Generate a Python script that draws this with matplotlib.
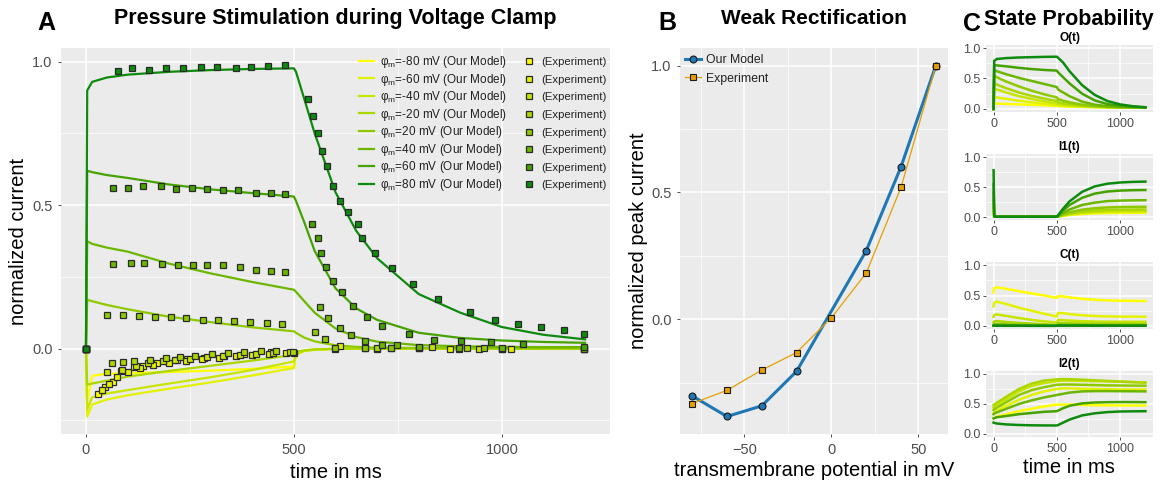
import matplotlib.pyplot as plt
from matplotlib.lines import Line2D
from matplotlib.ticker import FormatStrFormatter

plt.rcParams['font.family'] = ['Liberation Sans', 'DejaVu Sans']
plt.rcParams['mathtext.fontset'] = 'custom'
plt.rcParams['mathtext.rm'] = 'Liberation Sans'

# --- data -------------------------------------------------------------
VOLTS = [-80, -60, -40, -20, 20, 40, 60, 80]
COLORS = ['#FFFF00', '#E3F200', '#C7E500', '#ABD700',
          '#8EC900', '#6CB600', '#45A200', '#0E8A0E']

# panel A, model curves
T_MODEL = [0, 3, 15, 50, 100, 200, 300, 400, 500, 505, 525, 550, 600,
           650, 700, 800, 900, 1000, 1100, 1200]
model_m80 = [0, -0.185, -0.095, -0.088, -0.086, -0.082, -0.077, -0.071, -0.063,
             -0.018, -0.007, -0.003, -0.001, 0, 0, 0, 0, 0, 0, 0]
model_m60 = [0, -0.237, -0.195, -0.178, -0.163, -0.140, -0.118, -0.094, -0.068,
             -0.022, -0.009, -0.004, -0.001, 0, 0, 0, 0, 0, 0, 0]
model_m40 = [0, -0.212, -0.170, -0.157, -0.145, -0.122, -0.100, -0.075, -0.045,
             -0.020, -0.008, -0.004, -0.001, 0, 0, 0, 0, 0, 0, 0]
model_m20 = [0, -0.126, -0.122, -0.112, -0.098, -0.078, -0.060, -0.042, -0.022,
             -0.012, -0.006, -0.003, -0.001, 0, 0, 0, 0, 0, 0, 0]
model_20 = [0, 0.170, 0.165, 0.152, 0.137, 0.111, 0.092, 0.074, 0.060,
            0.055, 0.038, 0.025, 0.011, 0.006, 0.003, 0.002, 0.002, 0.001, 0.001, 0.001]
model_40 = [0, 0.374, 0.365, 0.352, 0.338, 0.296, 0.262, 0.232, 0.205,
            0.198, 0.165, 0.125, 0.070, 0.040, 0.024, 0.012, 0.008, 0.006, 0.005, 0.005]
model_60 = [0, 0.620, 0.615, 0.605, 0.595, 0.572, 0.555, 0.542, 0.530,
            0.515, 0.440, 0.340, 0.210, 0.140, 0.100, 0.055, 0.037, 0.028, 0.023, 0.020]
model_80 = [0, 0.900, 0.930, 0.945, 0.955, 0.965, 0.971, 0.975, 0.977,
            0.965, 0.870, 0.750, 0.545, 0.410, 0.315, 0.190, 0.125, 0.075, 0.048, 0.032]

# panel A, experiment points
exp_t_m80 = [0, 29, 45, 65, 85, 116, 136, 155, 171, 193, 219, 242, 283, 331, 380,
             444, 500, 599, 699, 800, 897, 1000, 1197]
exp_v_m80 = [0, -0.159, -0.135, -0.115, -0.080, -0.063, -0.060, -0.051, -0.049, -0.042,
             -0.039, -0.035, -0.032, -0.026, -0.019, -0.013, -0.016, 0.0, 0.0, 0.001,
             0.0, 0.0, 0.0]
exp_t_m60 = [0, 38, 55, 75, 100, 130, 160, 200, 240, 280, 320, 360, 400, 440, 480,
             612, 734, 876, 1022]
exp_v_m60 = [0, -0.145, -0.122, -0.100, -0.082, -0.068, -0.058, -0.050, -0.043, -0.038,
             -0.032, -0.027, -0.022, -0.018, -0.015, 0.008, 0.002, 0.0, 0.0]
exp_t_m40 = [0, 51, 87, 120, 150, 185, 215, 250, 290, 330, 370, 410, 450, 490, 672,
             831, 946]
exp_v_m40 = [0, -0.082, -0.074, -0.060, -0.052, -0.045, -0.040, -0.036, -0.031, -0.026,
             -0.022, -0.018, -0.014, -0.012, 0.003, 0.004, 0.0]
exp_t_m20 = [0, 63, 89, 115, 155, 193, 227, 263, 303, 342, 380, 422, 458, 498, 699,
             800, 917, 1000]
exp_v_m20 = [0, -0.051, -0.048, -0.042, -0.039, -0.034, -0.030, -0.026, -0.020, -0.016,
             -0.013, -0.008, -0.008, -0.013, 0.001, 0.002, 0.003, 0.0]
exp_t_20 = [0, 51, 88, 128, 166, 204, 241, 281, 317, 357, 394, 435, 471, 551, 575,
            599, 672, 734, 957, 1197]
exp_v_20 = [0, 0.118, 0.118, 0.115, 0.111, 0.110, 0.105, 0.101, 0.100, 0.096, 0.094,
            0.088, 0.087, 0.058, 0.035, 0.002, 0.003, 0.002, 0.003, 0.0]
exp_t_40 = [0, 66, 108, 140, 183, 222, 258, 292, 330, 370, 409, 444, 479, 563, 583,
            610, 637, 671, 713, 748, 800, 897, 1000, 1197]
exp_v_40 = [0, 0.295, 0.298, 0.298, 0.296, 0.292, 0.292, 0.291, 0.290, 0.286, 0.274,
            0.271, 0.266, 0.145, 0.107, 0.073, 0.046, 0.028, 0.014, 0.014, 0.004,
            0.002, 0.001, 0.0]
exp_t_60 = [0, 65, 100, 138, 180, 217, 255, 291, 329, 366, 408, 444, 479, 544, 559,
            565, 577, 594, 616, 643, 676, 713, 777, 837, 901, 973, 1051, 1197]
exp_v_60 = [0, 0.559, 0.561, 0.568, 0.567, 0.557, 0.559, 0.556, 0.552, 0.553, 0.544,
            0.544, 0.540, 0.436, 0.387, 0.333, 0.284, 0.237, 0.197, 0.150, 0.110,
            0.078, 0.049, 0.031, 0.026, 0.023, 0.017, 0.005]
exp_t_80 = [0, 76, 110, 152, 193, 234, 277, 314, 360, 398, 438, 479, 535, 546, 559,
            568, 579, 593, 610, 629, 653, 663, 695, 735, 787, 847, 923, 983, 1039,
            1094, 1149, 1197]
exp_v_80 = [0, 0.967, 0.977, 0.973, 0.979, 0.977, 0.982, 0.981, 0.980, 0.981, 0.985,
            0.987, 0.870, 0.812, 0.750, 0.690, 0.637, 0.567, 0.515, 0.476, 0.434,
            0.387, 0.333, 0.281, 0.225, 0.173, 0.126, 0.101, 0.086, 0.075, 0.063, 0.052]

# panel B
potential_model = [-80, -60, -40, -20, 20, 40, 60]
peak_model = [-0.302, -0.383, -0.341, -0.205, 0.270, 0.601, 1.0]
potential_exp = [-80, -60, -40, -20, 0, 20, 40, 60]
peak_exp = [-0.332, -0.280, -0.200, -0.131, 0.006, 0.182, 0.520, 1.0]

# panel C, state probabilities (rows: -80 ... 80 mV)
T_STATE = [0, 5, 25, 100, 200, 300, 400, 500, 510, 550, 600, 700, 800, 900, 1000,
           1100, 1200]
prob_O = [
    [0, 0.09, 0.088, 0.082, 0.075, 0.068, 0.061, 0.05, 0.047, 0.043, 0.04, 0.034, 0.03, 0.027, 0.025, 0.024, 0.024],
    [0, 0.20, 0.19, 0.165, 0.135, 0.11, 0.085, 0.065, 0.06, 0.052, 0.046, 0.037, 0.031, 0.028, 0.026, 0.025, 0.024],
    [0, 0.34, 0.32, 0.27, 0.21, 0.165, 0.125, 0.09, 0.08, 0.07, 0.06, 0.045, 0.035, 0.03, 0.026, 0.025, 0.024],
    [0, 0.43, 0.40, 0.34, 0.27, 0.215, 0.17, 0.13, 0.11, 0.095, 0.08, 0.055, 0.04, 0.032, 0.027, 0.025, 0.024],
    [0, 0.55, 0.52, 0.45, 0.37, 0.30, 0.24, 0.19, 0.16, 0.135, 0.11, 0.07, 0.046, 0.035, 0.029, 0.026, 0.024],
    [0, 0.64, 0.62, 0.57, 0.51, 0.46, 0.41, 0.36, 0.32, 0.27, 0.21, 0.12, 0.07, 0.045, 0.033, 0.028, 0.025],
    [0, 0.72, 0.715, 0.70, 0.675, 0.655, 0.64, 0.63, 0.60, 0.52, 0.42, 0.25, 0.14, 0.08, 0.05, 0.035, 0.027],
    [0, 0.79, 0.82, 0.835, 0.845, 0.85, 0.855, 0.858, 0.84, 0.76, 0.62, 0.39, 0.23, 0.13, 0.075, 0.045, 0.028],
]
prob_I1 = [
    [0.05, 0.006, 0.005, 0.005, 0.005, 0.005, 0.005, 0.005, 0.006, 0.02, 0.033, 0.05, 0.061, 0.066, 0.068, 0.069, 0.07],
    [0.10, 0.006, 0.005, 0.005, 0.005, 0.005, 0.005, 0.005, 0.006, 0.024, 0.04, 0.061, 0.074, 0.08, 0.083, 0.084, 0.085],
    [0.15, 0.007, 0.005, 0.005, 0.005, 0.005, 0.005, 0.005, 0.007, 0.028, 0.047, 0.072, 0.087, 0.094, 0.097, 0.099, 0.10],
    [0.20, 0.008, 0.005, 0.005, 0.005, 0.005, 0.005, 0.005, 0.008, 0.034, 0.058, 0.09, 0.108, 0.118, 0.122, 0.124, 0.125],
    [0.30, 0.008, 0.005, 0.005, 0.005, 0.005, 0.005, 0.005, 0.01, 0.045, 0.078, 0.122, 0.147, 0.16, 0.166, 0.169, 0.17],
    [0.40, 0.009, 0.005, 0.005, 0.005, 0.005, 0.005, 0.005, 0.015, 0.07, 0.125, 0.20, 0.24, 0.265, 0.273, 0.278, 0.28],
    [0.55, 0.01, 0.005, 0.005, 0.005, 0.005, 0.005, 0.005, 0.025, 0.11, 0.20, 0.32, 0.39, 0.425, 0.44, 0.447, 0.45],
    [0.78, 0.01, 0.005, 0.005, 0.005, 0.005, 0.005, 0.005, 0.03, 0.14, 0.26, 0.42, 0.51, 0.555, 0.575, 0.585, 0.59],
]
prob_C = [
    [0.55, 0.62, 0.635, 0.61, 0.57, 0.535, 0.50, 0.46, 0.49, 0.485, 0.47, 0.445, 0.43, 0.42, 0.415, 0.412, 0.41],
    [0.32, 0.38, 0.40, 0.36, 0.30, 0.25, 0.20, 0.155, 0.215, 0.21, 0.195, 0.175, 0.163, 0.157, 0.154, 0.153, 0.152],
    [0.15, 0.18, 0.19, 0.165, 0.13, 0.10, 0.075, 0.055, 0.10, 0.095, 0.088, 0.078, 0.073, 0.07, 0.069, 0.068, 0.068],
    [0.06, 0.075, 0.08, 0.065, 0.05, 0.038, 0.028, 0.02, 0.05, 0.048, 0.045, 0.04, 0.037, 0.036, 0.035, 0.035, 0.035],
    [0.02, 0.03, 0.032, 0.026, 0.02, 0.015, 0.011, 0.008, 0.025, 0.024, 0.022, 0.02, 0.019, 0.018, 0.018, 0.018, 0.018],
    [0.01, 0.015, 0.016, 0.013, 0.01, 0.008, 0.006, 0.005, 0.015, 0.014, 0.013, 0.012, 0.011, 0.011, 0.011, 0.011, 0.011],
    [0.005, 0.008, 0.009, 0.007, 0.005, 0.004, 0.003, 0.003, 0.01, 0.009, 0.008, 0.008, 0.007, 0.007, 0.007, 0.007, 0.007],
    [0.003, 0.004, 0.004, 0.003, 0.003, 0.002, 0.002, 0.002, 0.006, 0.005, 0.005, 0.005, 0.004, 0.004, 0.004, 0.004, 0.004],
]
prob_I2 = [
    [0.26, 0.27, 0.29, 0.33, 0.38, 0.42, 0.46, 0.49, 0.49, 0.49, 0.49, 0.485, 0.48, 0.478, 0.476, 0.475, 0.475],
    [0.35, 0.36, 0.39, 0.47, 0.57, 0.65, 0.71, 0.75, 0.755, 0.76, 0.76, 0.755, 0.75, 0.745, 0.742, 0.74, 0.74],
    [0.44, 0.45, 0.48, 0.58, 0.71, 0.80, 0.85, 0.88, 0.885, 0.89, 0.89, 0.885, 0.88, 0.875, 0.87, 0.865, 0.86],
    [0.48, 0.49, 0.52, 0.62, 0.75, 0.84, 0.89, 0.91, 0.912, 0.915, 0.913, 0.905, 0.895, 0.885, 0.875, 0.865, 0.855],
    [0.40, 0.41, 0.44, 0.53, 0.65, 0.73, 0.78, 0.82, 0.822, 0.825, 0.825, 0.82, 0.815, 0.81, 0.808, 0.806, 0.805],
    [0.33, 0.34, 0.36, 0.42, 0.50, 0.56, 0.61, 0.65, 0.655, 0.67, 0.69, 0.71, 0.715, 0.715, 0.713, 0.712, 0.71],
    [0.26, 0.265, 0.28, 0.30, 0.33, 0.35, 0.37, 0.38, 0.39, 0.43, 0.47, 0.51, 0.525, 0.53, 0.532, 0.532, 0.53],
    [0.19, 0.185, 0.175, 0.16, 0.15, 0.145, 0.143, 0.142, 0.15, 0.19, 0.24, 0.31, 0.345, 0.365, 0.375, 0.378, 0.38],
]

model_curves = [model_m80, model_m60, model_m40, model_m20,
                model_20, model_40, model_60, model_80]
exp_times = [exp_t_m80, exp_t_m60, exp_t_m40, exp_t_m20,
             exp_t_20, exp_t_40, exp_t_60, exp_t_80]
exp_values = [exp_v_m80, exp_v_m60, exp_v_m40, exp_v_m20,
              exp_v_20, exp_v_40, exp_v_60, exp_v_80]

# --- layout helpers ----------------------------------------------------
W, H = 1168, 486
BG = '#EBEBEB'
TICK_COL = '#4D4D4D'


def box(x0, y0, x1, y1):
    return [x0 / W, 1 - y1 / H, (x1 - x0) / W, (y1 - y0) / H]


def gg_style(ax, xmaj, xmin, ymaj, ymin, fs, ypad=3, xpad=3):
    ax.set_facecolor(BG)
    for s in ax.spines.values():
        s.set_visible(False)
    ax.set_xticks(xmaj)
    ax.set_xticks(xmin, minor=True)
    ax.set_yticks(ymaj)
    ax.set_yticks(ymin, minor=True)
    ax.grid(which='major', color='white', lw=1.1)
    ax.grid(which='minor', color='white', lw=0.5)
    ax.set_axisbelow(True)
    ax.tick_params(which='major', length=2.5, width=0.6, color='#333333',
                   labelcolor=TICK_COL, labelsize=fs)
    ax.tick_params(axis='y', pad=ypad)
    ax.tick_params(axis='x', pad=xpad)
    ax.tick_params(which='minor', length=0)
    ax.yaxis.set_major_formatter(FormatStrFormatter('%.1f'))


fig = plt.figure(figsize=(W / 100, H / 100), dpi=100)

# --- A ----------------------------------------------------------------
ax_a = fig.add_axes(box(61, 48, 610, 434))
gg_style(ax_a, [0, 500, 1000], [250, 750], [0, 0.5, 1.0], [-0.25, 0.25, 0.75], 10.5,
         ypad=3.5, xpad=4)
for curve, col in zip(model_curves, COLORS):
    ax_a.plot(T_MODEL, curve, color=col, lw=1.6, zorder=2)
for tt, vv, col in zip(exp_times, exp_values, COLORS):
    ax_a.plot(tt, vv, ls='none', marker='s', ms=4.8, mfc=col, mec='#2A2A2A',
              mew=0.9, zorder=3)
ax_a.set_xlim(-60, 1260)
ax_a.set_ylim(-0.298, 1.048)

# legend: two columns drawn as two legends so the rows line up
line_handles = [Line2D([], [], color=c, lw=1.6) for c in COLORS]
pt_handles = [Line2D([], [], ls='none', marker='s', ms=4.8, mfc=c, mec='#2A2A2A', mew=0.9)
              for c in COLORS]
line_labels = [r'φ$_\mathrm{m}$=%d mV (Our Model)' % v for v in VOLTS]
pt_labels = ['(Experiment)'] * len(VOLTS)
leg1 = ax_a.legend(line_handles, line_labels, loc='upper left',
                   bbox_to_anchor=(359 / W, 1 - 54 / H), bbox_transform=fig.transFigure,
                   frameon=False, fontsize=8.5, handlelength=1.3, handletextpad=0.5,
                   labelspacing=0.13, borderpad=0, borderaxespad=0, labelcolor='#222222')
ax_a.add_artist(leg1)
ax_a.legend(pt_handles, pt_labels, loc='upper left',
            bbox_to_anchor=(522 / W, 1 - 57 / H), bbox_transform=fig.transFigure,
            frameon=False, fontsize=8.2, handlelength=1.3, handletextpad=0.35,
            labelspacing=0.67, borderpad=0, borderaxespad=0, labelcolor='#222222')

# --- B ----------------------------------------------------------------
ax_b = fig.add_axes(box(680, 48, 948, 434))
gg_style(ax_b, [-50, 0, 50], [-75, -25, 25], [0, 0.5, 1.0], [-0.25, 0.25, 0.75], 10.5,
         ypad=3.5, xpad=4)
ax_b.xaxis.set_major_formatter(plt.FuncFormatter(lambda v, p: '%d' % v if v >= 0 else '\u2212%d' % -v))
ax_b.plot(potential_model, peak_model, color='#1F77B4', lw=2.2, marker='o', ms=5,
          mfc='#1F77B4', mec='#1A1A1A', mew=0.8, label='Our Model', zorder=3)
ax_b.plot(potential_exp, peak_exp, color='#E69F00', lw=0.9, marker='s', ms=4.8,
          mfc='#E69F00', mec='#1A1A1A', mew=0.8, label='Experiment', zorder=4)
ax_b.set_xlim(-87, 67)
ax_b.set_ylim(-0.452, 1.069)
ax_b.legend(loc='upper left', bbox_to_anchor=(685 / W, 1 - 54 / H),
            bbox_transform=fig.transFigure, frameon=False, fontsize=8.8,
            handlelength=1.3, handletextpad=0.45, labelspacing=0.55,
            borderpad=0, borderaxespad=0, labelcolor='#222222')

# --- C ----------------------------------------------------------------
c_boxes = [(45, 112), (154, 220), (262, 329), (371, 437)]
c_titles = ['O(t)', 'I1(t)', 'C(t)', 'I2(t)']
c_data = [prob_O, prob_I1, prob_C, prob_I2]
for (y0, y1), title, states in zip(c_boxes, c_titles, c_data):
    ax = fig.add_axes(box(986, y0, 1153, y1))
    gg_style(ax, [0, 500, 1000], [250, 750], [0, 0.5, 1.0], [0.25, 0.75], 9,
             ypad=1.5, xpad=2)
    for row, col in zip(states, COLORS):
        ax.plot(T_STATE, row, color=col, lw=1.8)
    ax.set_xlim(-60, 1260)
    ax.set_ylim(-0.05, 1.05)
    fig.text(1069.5 / W, 1 - (y0 - 4) / H, title, ha='center', va='baseline',
             fontsize=8.5, fontweight='bold')

# --- texts --------------------------------------------------------------
fig.text(46 / W, 1 - 30 / H, 'A', ha='center', va='baseline', fontsize=18, fontweight='bold')
fig.text(667 / W, 1 - 30 / H, 'B', ha='center', va='baseline', fontsize=18, fontweight='bold')
fig.text(972 / W, 1 - 31 / H, 'C', ha='center', va='baseline', fontsize=18, fontweight='bold')
fig.text(335.5 / W, 1 - 24 / H, 'Pressure Stimulation during Voltage Clamp',
         ha='center', va='baseline', fontsize=15.5, fontweight='bold')
fig.text(814 / W, 1 - 24.5 / H, 'Weak Rectification', ha='center', va='baseline',
         fontsize=15, fontweight='bold')
fig.text(1069 / W, 1 - 24.5 / H, 'State Probability', ha='center', va='baseline',
         fontsize=15.5, fontweight='bold')

fig.text(19 / W, 1 - 241 / H, 'normalized current', rotation=90, ha='center',
         va='center', fontsize=14.5)
fig.text(335.5 / W, 1 - 478 / H, 'time in ms', ha='center', va='baseline', fontsize=14.5)
fig.text(638 / W, 1 - 241 / H, 'normalized peak current', rotation=90, ha='center',
         va='center', fontsize=14.5)
fig.text(814 / W, 1 - 476 / H, 'transmembrane potential in mV', ha='center',
         va='baseline', fontsize=14.5)
fig.text(1068.5 / W, 1 - 473 / H, 'time in ms', ha='center', va='baseline', fontsize=14.5)

fig.savefig('out.png', dpi=100)
